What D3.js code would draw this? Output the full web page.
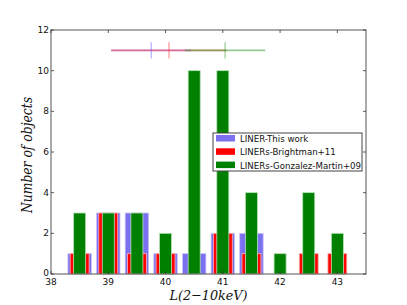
<!DOCTYPE html>
<html>
<head>
<meta charset="utf-8">
<script src="https://d3js.org/d3.v7.min.js"></script>
<style>
  body { margin: 0; background: #fff; overflow: hidden; }
  text { font-family: "DejaVu Sans", sans-serif; }
  .math { font-family: "DejaVu Serif", serif; font-style: italic; }
</style>
</head>
<body>
<div id="chart"></div>
<script>
// bin centres of the histograms
const bins = [38.5, 39, 39.5, 40, 40.5, 41, 41.5, 42, 42.5, 43];
const thisWork = [1, 3, 3, 1, 1, 2, 2, 0, 0, 0];
const brightman = [1, 3, 1, 1, 0, 2, 1, 0, 1, 1];
const gonzalez = [3, 3, 3, 2, 10, 10, 4, 1, 4, 2];

// mean +/- spread markers drawn at y = 11
const meanVals = [39.75, 40.06, 41.04];
const meanErr = [0.7, 1.01, 0.7];

const seriesNames = ["LINER-This work", "LINERs-Brightman+11", "LINERs-Gonzalez-Martin+09"];
const xTicks = [38, 39, 40, 41, 42, 43];
const yTicks = [0, 2, 4, 6, 8, 10, 12];

const width = 407, height = 305;
const margin = { left: 51, right: 41, top: 30, bottom: 31 };

const svg = d3.select("#chart").append("svg")
    .attr("width", width)
    .attr("height", height);

const x = d3.scaleLinear().domain([38, 43.5]).range([margin.left, width - margin.right]);
const y = d3.scaleLinear().domain([0, 12]).range([height - margin.bottom, margin.top]);

const series = [
    { vals: thisWork, w: 0.41, fill: "#7b70ef", edge: "#c9c4fa" },
    { vals: brightman, w: 0.33, fill: "#ff0000", edge: "#ffb0b0" },
    { vals: gonzalez, w: 0.21, fill: "#008000", edge: "#b6e0b6" }
];

series.forEach(s => {
    svg.append("g").selectAll("rect")
        .data(bins.map((b, i) => ({ b, v: s.vals[i] })).filter(d => d.v > 0))
        .enter().append("rect")
        .attr("x", d => x(d.b - s.w / 2))
        .attr("y", d => y(d.v))
        .attr("width", d => x(d.b + s.w / 2) - x(d.b - s.w / 2))
        .attr("height", d => y(0) - y(d.v))
        .attr("fill", s.fill)
        .attr("stroke", s.edge)
        .attr("stroke-width", 0.8);
});

// error bars
const errCols = ["#6a5cff", "#ff3030", "#2a9a2a"];
const eb = svg.append("g");
meanVals.forEach((m, i) => {
    eb.append("line")
        .attr("x1", x(m - meanErr[i])).attr("x2", x(m + meanErr[i]))
        .attr("y1", y(11)).attr("y2", y(11))
        .attr("stroke", errCols[i]).attr("stroke-opacity", 0.5).attr("stroke-width", 1.6);
});
meanVals.forEach((m, i) => {
    eb.append("line")
        .attr("x1", x(m)).attr("x2", x(m))
        .attr("y1", y(11.4)).attr("y2", y(10.6))
        .attr("stroke", errCols[i]).attr("stroke-opacity", 0.5).attr("stroke-width", 1.2);
});

// frame
svg.append("rect")
    .attr("x", margin.left).attr("y", margin.top)
    .attr("width", width - margin.left - margin.right)
    .attr("height", height - margin.top - margin.bottom)
    .attr("fill", "none").attr("stroke", "#555").attr("stroke-width", 1);

// ticks (inward, both sides)
const tk = svg.append("g").attr("stroke", "#333").attr("stroke-width", 0.8);
xTicks.forEach(t => {
    tk.append("line").attr("x1", x(t)).attr("x2", x(t)).attr("y1", y(0)).attr("y2", y(0) - 3);
    tk.append("line").attr("x1", x(t)).attr("x2", x(t)).attr("y1", y(12)).attr("y2", y(12) + 3);
});
yTicks.forEach(t => {
    tk.append("line").attr("x1", x(38)).attr("x2", x(38) + 3).attr("y1", y(t)).attr("y2", y(t));
    tk.append("line").attr("x1", x(43.5)).attr("x2", x(43.5) - 3).attr("y1", y(t)).attr("y2", y(t));
});

svg.append("g").selectAll("text").data(xTicks).enter().append("text")
    .attr("x", d => x(d)).attr("y", y(0) + 10.5)
    .attr("text-anchor", "middle").attr("font-size", 9).attr("fill", "#111")
    .text(d => d);
svg.append("g").selectAll("text").data(yTicks).enter().append("text")
    .attr("x", x(38) - 2).attr("y", d => y(d) + (d === 0 ? 1.5 : 3))
    .attr("text-anchor", "end")
    .attr("font-size", 9).attr("fill", "#111")
    .text(d => d);

// axis labels
svg.append("text").attr("class", "math")
    .attr("x", (x(38) + x(43.5)) / 2).attr("y", 299.5)
    .attr("text-anchor", "middle").attr("font-size", 13.5).attr("fill", "#111")
    .attr("textLength", 78).attr("lengthAdjust", "spacingAndGlyphs")
    .text("L(2\u221210keV)");
svg.append("text").attr("class", "math")
    .attr("transform", `translate(32,155) rotate(-90)`)
    .attr("text-anchor", "middle").attr("font-size", 14.5).attr("fill", "#111")
    .attr("textLength", 116).attr("lengthAdjust", "spacingAndGlyphs")
    .text("Number of objects");

// legend
const lg = svg.append("g").attr("transform", "translate(213,133)");
lg.append("rect").attr("width", 149).attr("height", 38)
    .attr("fill", "#fff").attr("stroke", "#444").attr("stroke-width", 1);
seriesNames.forEach((n, i) => {
    lg.append("rect").attr("x", 3).attr("y", 2 + i * 13.3)
        .attr("width", 19).attr("height", 6.5)
        .attr("fill", series[i].fill);
    lg.append("text").attr("x", 27).attr("y", 9 + i * 13.3)
        .attr("font-size", 8.6).attr("fill", "#111").text(n);
});
</script>
</body>
</html>
